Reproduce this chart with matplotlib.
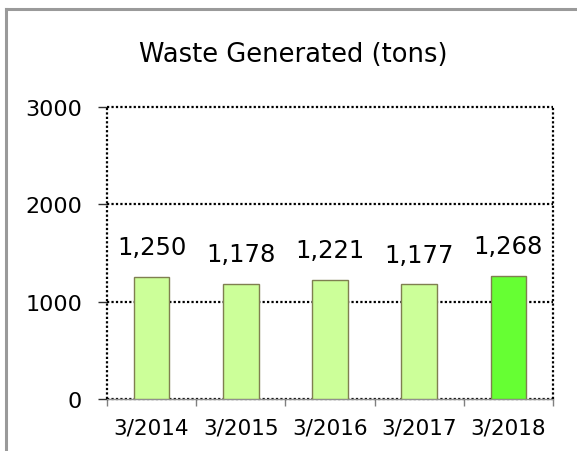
import matplotlib.pyplot as plt
from matplotlib.lines import Line2D

# data
years = ['3/2014', '3/2015', '3/2016', '3/2017', '3/2018']
waste = [1250, 1178, 1221, 1177, 1268]
bar_colors = ['#CCFF99', '#CCFF99', '#CCFF99', '#CCFF99', '#66FF33']

fig = plt.figure(figsize=(5.77, 4.52), dpi=100)
ax = fig.add_axes([107 / 577, 52 / 452, 446 / 577, 292 / 452])

x = list(range(len(years)))
ax.bar(x, waste, width=0.4, color=bar_colors, edgecolor='#7F7F50', linewidth=1.0, zorder=3)

for xi, v in zip(x, waste):
    ax.annotate(f'{v:,}', (xi, v), xytext=(0, 16.5), textcoords='offset points',
                ha='center', va='baseline', fontsize=17.5, color='black')

ax.set_xlim(-0.5, 4.5)
ax.set_ylim(0, 3000)
ax.set_yticks([0, 1000, 2000, 3000])
ax.set_yticklabels(['0', '1000', '2000', '3000'])

dots = (0, (1, 1))

# grid lines and frame (dotted)
for g in [0, 1000, 2000, 3000]:
    ax.axhline(g, color='black', lw=1.6, ls=dots, zorder=2, clip_on=False)
for b in [-0.5, 4.5]:
    ax.axvline(b, color='black', lw=1.6, ls=dots, zorder=4, clip_on=False)

# category boundary ticks on x axis, labels in the middle
ax.set_xticks([-0.5, 0.5, 1.5, 2.5, 3.5, 4.5])
ax.set_xticklabels([])
ax.set_xticks(x, minor=True)
ax.set_xticklabels(years, minor=True)
ax.tick_params(axis='x', which='major', length=5, color='#808080', width=1)
ax.tick_params(axis='x', which='minor', length=0, pad=13, labelsize=15.5)
ax.tick_params(axis='y', length=6.5, color='#303030', width=1, pad=11.5, labelsize=16)

for side in ['top', 'right', 'left']:
    ax.spines[side].set_visible(False)
ax.spines['bottom'].set_color('#909090')
ax.spines['bottom'].set_linewidth(1.0)

fig.text(293 / 577, 1 - 55 / 452, 'Waste Generated (tons)', ha='center', va='center', fontsize=18.5)

# gray outer frame (left and top edges)
fig.add_artist(Line2D([6 / 577, 6 / 577], [0, 1 - 10 / 452], color='#9A9A9A', lw=2.2))
fig.add_artist(Line2D([6 / 577, 1], [1 - 10 / 452, 1 - 10 / 452], color='#9A9A9A', lw=2.2))

fig.savefig('out.png', dpi=100)
